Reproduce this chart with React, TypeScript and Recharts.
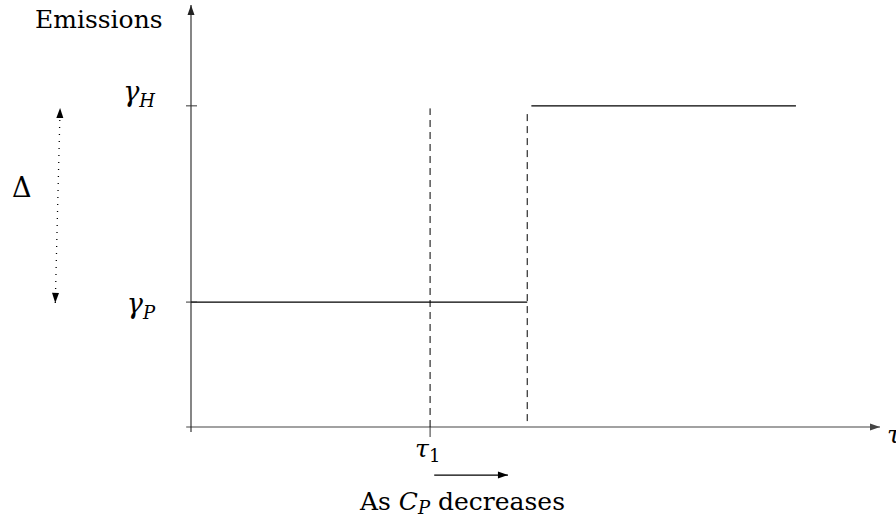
import React from 'react';
import { ComposedChart, Line, XAxis, YAxis, ReferenceLine, Label } from 'recharts';

const X_DOMAIN = [0, 10];
const Y_DOMAIN = [0, 1];

const xTicks = [3.47];
const xTickLabels = [{ main: 'τ', sub: '1' }];
const yTicks = [0.296, 0.761];
const yTickLabels = [
  { main: 'γ', sub: 'P' },
  { main: 'γ', sub: 'H' },
];

const lowEmissionsX = [0, 4.88];
const lowEmissionsY = [0.296, 0.296];
const highEmissionsX = [4.94, 8.78];
const highEmissionsY = [0.761, 0.761];
const tau1DashX = [3.47, 3.47];
const tau1DashY = [0, 0.755];
const switchDashX = [4.88, 4.88];
const switchDashY = [0.014, 0.746];

const deltaArrowX = [-1.97, -1.9];
const deltaArrowY = [0.294, 0.756];
const shiftArrowX = [3.53, 4.6];
const shiftArrowY = [-0.114, -0.114];
const xAxisArrowX = [-0.07, 10];
const xAxisArrowY = [0, 0];
const yAxisArrowX = [0, 0];
const yAxisArrowY = [-0.012, 1];

const toPoints = (xs: number[], ys: number[]) => xs.map((x, i) => ({ x, y: ys[i] }));

const SERIF = 'DejaVu Serif';
const FS = 25;
const SUB = 18;

const head = (tx: number, ty: number, fx: number, fy: number, color: string) => {
  const dx = tx - fx;
  const dy = ty - fy;
  const len = Math.hypot(dx, dy) || 1;
  const ux = dx / len;
  const uy = dy / len;
  const L = 10;
  const W = 3.5;
  const bx = tx - ux * L;
  const by = ty - uy * L;
  return (
    <polygon
      points={`${tx},${ty} ${bx - uy * W},${by + ux * W} ${bx + uy * W},${by - ux * W}`}
      fill={color}
    />
  );
};

const makeArrow = (both: boolean, dash?: string, width = 1) => (props: any) => {
  const { x1, y1, x2, y2 } = props;
  const color = props.stroke || '#000';
  return (
    <g>
      <line x1={x1} y1={y1} x2={x2} y2={y2} stroke={color} strokeWidth={width} strokeDasharray={dash} />
      {head(x2, y2, x1, y1, color)}
      {both ? head(x1, y1, x2, y2, color) : null}
    </g>
  );
};

const YTick = (props: any) => {
  const { x, y, payload } = props;
  const idx = yTicks.indexOf(payload.value);
  const lab = yTickLabels[idx];
  const dyMain = idx === 1 ? -5 : 11;
  return (
    <g>
      <line x1={x - 5} y1={y} x2={x + 6} y2={y} stroke="#333" strokeWidth={1} />
      <text x={x - 36} y={y + dyMain} textAnchor="end" fontFamily={SERIF} fontSize={FS + 2} fill="#000">
        <tspan fontStyle="italic">{lab.main}</tspan>
        <tspan fontStyle="italic" fontSize={SUB} dy={6}>{lab.sub}</tspan>
      </text>
    </g>
  );
};

const XTick = (props: any) => {
  const { x, y, payload } = props;
  const idx = xTicks.indexOf(payload.value);
  const lab = xTickLabels[idx];
  return (
    <g>
      <line x1={x} y1={y} x2={x} y2={y + 10} stroke="#333" strokeWidth={1} />
      <text x={x - 15} y={y + 30} fontFamily={SERIF} fontSize={FS} fill="#000">
        <tspan fontStyle="italic">{lab.main}</tspan>
        <tspan fontSize={SUB} dy={5}>{lab.sub}</tspan>
      </text>
    </g>
  );
};

const EmissionsLabel = () => (
  <text x={35} y={28} fontFamily={SERIF} fontSize={FS} fill="#000">Emissions</text>
);

const DeltaLabel = () => (
  <text x={12} y={197} fontFamily={SERIF} fontSize={FS + 2} fill="#000">Δ</text>
);

const ShiftLabel = () => (
  <text x={360} y={510} fontFamily={SERIF} fontSize={FS} fill="#000">
    <tspan>As </tspan>
    <tspan fontStyle="italic">C</tspan>
    <tspan fontStyle="italic" fontSize={SUB} dy={4}>P</tspan>
    <tspan dy={-4}> decreases</tspan>
  </text>
);

const TauLabel = () => (
  <text x={887} y={443} fontFamily={SERIF} fontSize={FS} fontStyle="italic" fill="#000">τ</text>
);

export default function App() {
  return (
    <div style={{ position: 'absolute', left: 0, top: 0 }}>
      <ComposedChart width={896} height={520} margin={{ top: 5, right: 16, bottom: 0, left: 0 }}>
        <XAxis
          dataKey="x"
          type="number"
          domain={X_DOMAIN}
          allowDataOverflow
          ticks={xTicks}
          interval={0}
          tick={<XTick />}
          tickLine={false}
          tickSize={0}
          tickMargin={0}
          axisLine={false}
          height={93}
        />
        <YAxis
          type="number"
          domain={Y_DOMAIN}
          allowDataOverflow
          ticks={yTicks}
          interval={0}
          tick={<YTick />}
          tickLine={false}
          tickSize={0}
          tickMargin={0}
          axisLine={false}
          width={191}
        >
          <Label content={<EmissionsLabel />} />
        </YAxis>

        <ReferenceLine
          segment={toPoints(xAxisArrowX, xAxisArrowY)}
          ifOverflow="visible"
          stroke="#444"
          shape={makeArrow(false, undefined, 1.2)}
        >
          <Label content={<TauLabel />} />
        </ReferenceLine>
        <ReferenceLine
          segment={toPoints(yAxisArrowX, yAxisArrowY)}
          ifOverflow="visible"
          stroke="#222"
          shape={makeArrow(false, undefined, 1.1)}
        />
        <ReferenceLine
          segment={toPoints(deltaArrowX, deltaArrowY)}
          ifOverflow="visible"
          stroke="#000"
          shape={makeArrow(true, '1 6', 1.3)}
        >
          <Label content={<DeltaLabel />} />
        </ReferenceLine>
        <ReferenceLine
          segment={toPoints(shiftArrowX, shiftArrowY)}
          ifOverflow="visible"
          stroke="#000"
          shape={makeArrow(false, undefined, 1.1)}
        >
          <Label content={<ShiftLabel />} />
        </ReferenceLine>

        <Line data={toPoints(lowEmissionsX, lowEmissionsY)} dataKey="y" type="linear" stroke="#000" strokeWidth={1.1} dot={false} isAnimationActive={false} />
        <Line data={toPoints(highEmissionsX, highEmissionsY)} dataKey="y" type="linear" stroke="#000" strokeWidth={1.1} dot={false} isAnimationActive={false} />
        <Line data={toPoints(tau1DashX, tau1DashY)} dataKey="y" type="linear" stroke="#000" strokeWidth={1} strokeDasharray="7 5" dot={false} isAnimationActive={false} />
        <Line data={toPoints(switchDashX, switchDashY)} dataKey="y" type="linear" stroke="#000" strokeWidth={1} strokeDasharray="7 5" dot={false} isAnimationActive={false} />
      </ComposedChart>
    </div>
  );
}
